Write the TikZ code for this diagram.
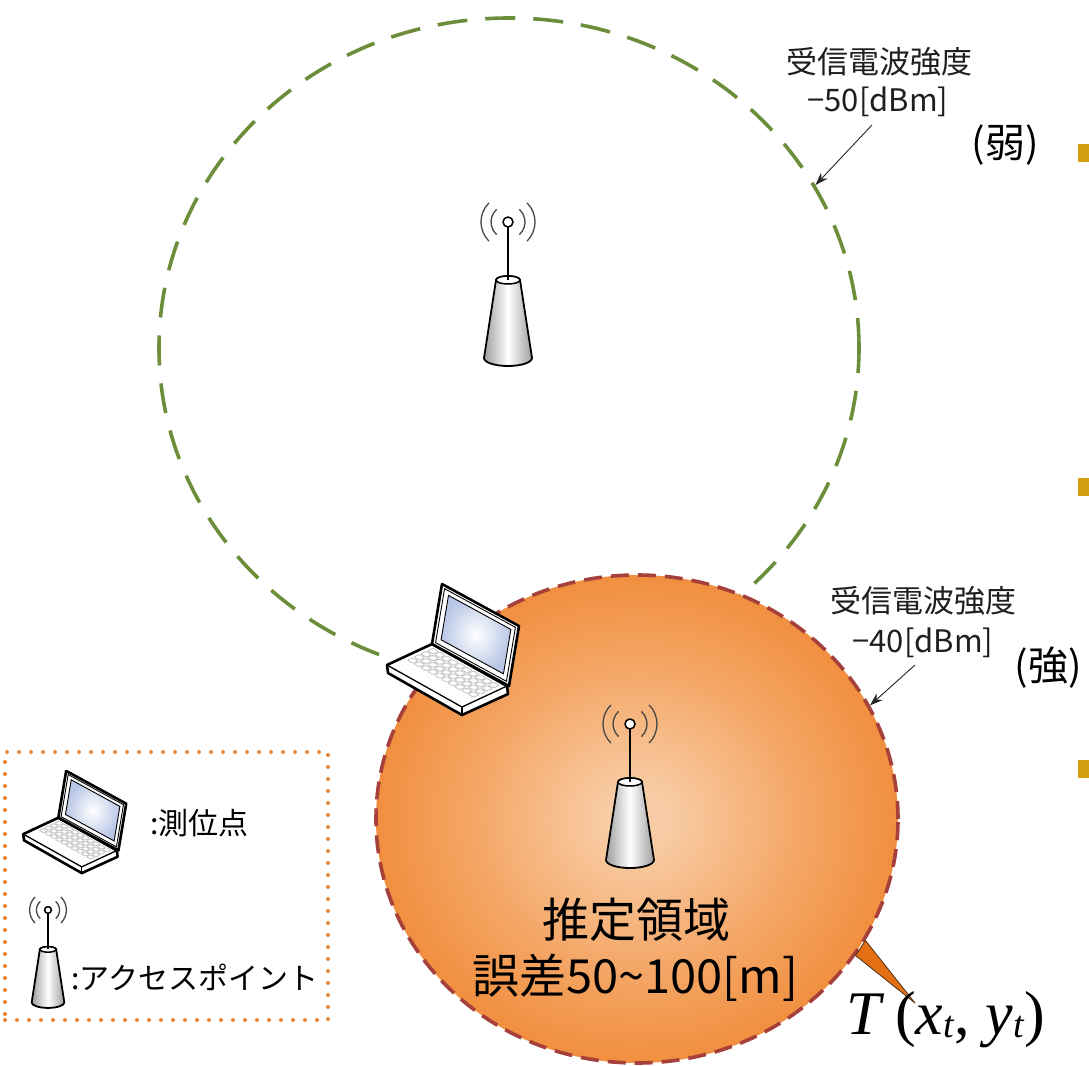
\documentclass[tikz,border=0pt]{standalone}
\usepackage{fontspec}
\newfontfamily\jp{Noto Sans CJK JP}
\newfontfamily\tms{Liberation Serif}
\usetikzlibrary{arrows.meta,shapes.geometric,calc}

\definecolor{ringgreen}{RGB}{108,142,58}
\definecolor{ringred}{RGB}{165,64,58}
\definecolor{zoneedge}{RGB}{238,128,38}
\definecolor{zonemid}{RGB}{244,165,100}
\definecolor{zonecore}{RGB}{248,204,164}
\definecolor{wedgefill}{RGB}{226,112,18}
\definecolor{legenddot}{RGB}{236,133,52}
\definecolor{bulletgold}{RGB}{212,160,18}
\definecolor{screenblue}{RGB}{184,198,230}
\definecolor{keygray}{RGB}{200,200,200}
\definecolor{wavegray}{RGB}{70,70,70}

% soft glow for the estimated area
\pgfdeclareradialshading{zoneglow}{\pgfpoint{0bp}{0bp}}{%
  color(0bp)=(zonecore); color(3bp)=(zonecore); color(16bp)=(zonemid);
  color(31bp)=(zoneedge); color(50bp)=(zoneedge)}

\tikzset{
  ringstyle/.style={ellipse, inner sep=0pt, line width=3.6pt},
  lbl/.style={font=\jp\fontsize{31}{36}\selectfont, inner sep=0pt, text=black!88},
  paren/.style={font=\jp\fontsize{40}{46}\selectfont, inner sep=0pt},
  zonetxt/.style={font=\jp\fontsize{47}{56}\selectfont, inner sep=0pt},
  legtxt/.style={font=\jp\fontsize{30}{36}\selectfont, inner sep=0pt, anchor=west},
  ptr/.style={-{Stealth[length=13pt,width=9pt]}, line width=0.9pt, black!85},
  bulletsq/.style={fill=bulletgold, minimum size=18pt, inner sep=0pt},
  % access point: waves, mast and cone; origin at the ball
  pics/antenna/.style={code={
    \draw[wavegray, line width=1.3pt]
      ([shift={(-48:17pt)}]0,0) arc[start angle=-48, end angle=48, radius=17pt]
      ([shift={(-45:27pt)}]0,0) arc[start angle=-45, end angle=45, radius=27pt]
      ([shift={(132:17pt)}]0,0) arc[start angle=132, end angle=228, radius=17pt]
      ([shift={(135:27pt)}]0,0) arc[start angle=135, end angle=225, radius=27pt];
    \draw[line width=1.8pt, left color=black!38, right color=black!38, middle color=white]
      (-12,58) -- (-24,136) arc[start angle=180, end angle=360, x radius=24pt, y radius=8pt]
      -- (12,58) arc[start angle=0, end angle=180, x radius=12pt, y radius=4pt] -- cycle;
    \draw[line width=1.5pt, fill=white] (0,58) ellipse[x radius=12pt, y radius=4pt];
    \draw[line width=1.6pt] (0,5) -- (0,58);
    \draw[line width=1.5pt, fill=white] (0,0) circle[radius=5pt];
  }},
  % notebook computer; origin at the upper left of its box
  pics/laptop/.style={code={
    \draw[line width=2.6pt, fill=white, line join=round]
      (17,95) -- (62,74) -- (137,116) -- (138,124) -- (92,145) -- (18,103) -- cycle;
    \draw[line width=1.3pt, line join=round] (17,95) -- (92,137) -- (137,116);
    \draw[line width=1.1pt] (92,137) -- (92,145);
    \begin{scope}[shift={(62,74)}, x={(75pt,-42pt)}, y={(-45pt,-21pt)}]
      \foreach \i in {0,...,9}
        \foreach \j in {0,...,3}
          \draw[keygray, line width=0.9pt, rounded corners=1pt]
            ({0.06+\i*0.09},{0.08+\j*0.15}) -- ++(0.075,0) -- ++(0,0.12)
            -- ++(-0.075,0) -- cycle;
    \end{scope}
    \begin{scope}[shift={(72,14)}, x={(77pt,-42pt)}, y={(-10pt,-60pt)}]
      \draw[line width=2.6pt, fill=white, line join=round]
        (0,0) -- (1,0) -- (1,1) -- (0,1) -- cycle;
      \draw[line width=0.9pt] (0.04,0.05) -- (0.96,0.05) -- (0.96,0.95) -- (0.04,0.95) -- cycle;
      \shade[inner color=white, outer color=screenblue, draw=black, line width=0.9pt]
        (0.1,0.12) -- (0.91,0.12) -- (0.91,0.86) -- (0.1,0.86) -- cycle;
    \end{scope}
  }},
}

\begin{document}
\begin{tikzpicture}[x=1pt, y=-1pt]
\useasboundingbox[fill=white] (0,0) rectangle (1089,1065);

% coverage rings
\node[ringstyle, draw=ringgreen, dash pattern=on 30pt off 18pt,
      minimum width=700pt, minimum height=660pt] (ring) at (509,348) {};
\node[ringstyle, draw=ringred, dash pattern=on 18pt off 9pt, shade, shading=zoneglow,
      minimum width=522pt, minimum height=488pt] (zone) at (637,819) {};

% callout to the target position
\coordinate (wtip) at (915,1003);
\draw[fill=wedgefill, draw=black!60!brown, line width=0.8pt, line join=round]
  (zone.-28) -- (wtip) -- (zone.-32) -- cycle;

% access points and the measuring laptop
\pic (apfar) at (508,222) {antenna};
\pic (apnear) at (630,724) {antenna};
\pic (pc) at (370,570) {laptop};

% signal strength labels
\node[lbl] (rss1) at (879,62) {受信電波強度};
\node[lbl] (dbm1) at (878,102) {−50[dBm]};
\node[paren] (weak) at (1005,145) {(弱)};
\coordinate (a1) at (872,125);
\draw[ptr] (a1) -- (ring.28.5);

\node[lbl] (rss2) at (923,601) {受信電波強度};
\node[lbl] (dbm2) at (923,643) {−40[dBm]};
\node[paren] (strong) at (1048,668) {(強)};
\coordinate (a2) at (915,665);
\draw[ptr] (a2) -- (zone.26.8);

% estimated area text
\node[zonetxt] (zt1) at (636,920) {推定領域};
\node[zonetxt] (zt2) at (635,978) {誤差50\textasciitilde100[m]};

% target coordinates
\node[inner sep=0pt, font=\tms\fontsize{62}{70}\selectfont] (tlabel) at (946,1020)
  {\textit{T}\,(\textit{x}\raisebox{-3pt}{\fontsize{38}{40}\selectfont\textit{t}},
   \textit{y}\raisebox{-3pt}{\fontsize{38}{40}\selectfont\textit{t}})};

% legend
\node[draw=legenddot, line width=4pt, dash pattern=on 0pt off 12pt, line cap=round,
      minimum width=323pt, minimum height=268pt, inner sep=0pt] (legend) at (166.5,886) {};
\pic[scale=0.78] (legpc) at (10,760) {laptop};
\node[legtxt] (l1) at (150,823) {:測位点};
\pic[scale=0.68] (legap) at (48,910) {antenna};
\node[legtxt] (l2) at (71,977) {:アクセスポイント};

% bullet marks at the right edge
\node[bulletsq] (b1) at (1087,153) {};
\node[bulletsq] (b2) at (1087,487) {};
\node[bulletsq] (b3) at (1087,769) {};
\end{tikzpicture}
\end{document}
